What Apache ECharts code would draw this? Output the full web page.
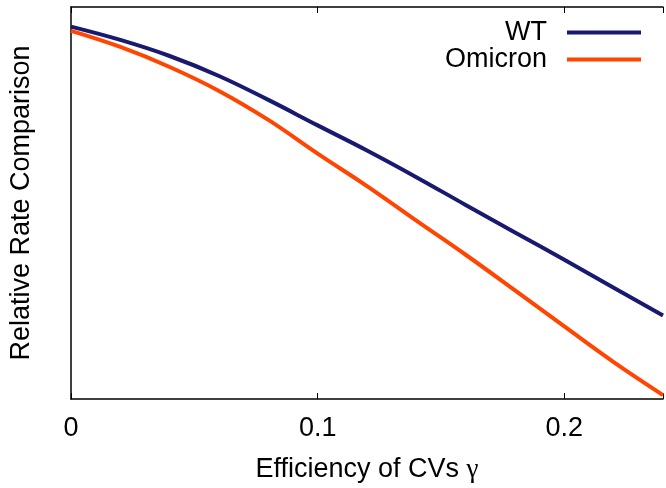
<!DOCTYPE html>
<html><head><meta charset="utf-8">
<script src="https://cdn.jsdelivr.net/npm/echarts@6/dist/echarts.min.js"></script>
<style>html,body{margin:0;padding:0;background:#fff}#c{width:666px;height:488px}</style>
</head><body><div id="c"></div>
<script>
const gamma = [0, 0.02, 0.04, 0.06, 0.08, 0.10, 0.12, 0.14, 0.16, 0.18, 0.20, 0.22, 0.24];
const wt = [0.950, 0.916, 0.875, 0.824, 0.763, 0.698, 0.634, 0.566, 0.495, 0.425, 0.355, 0.284, 0.213];
const omicron = [0.939, 0.898, 0.847, 0.786, 0.712, 0.626, 0.543, 0.455, 0.368, 0.277, 0.185, 0.094, 0.010];
const xTicks = [0, 0.1, 0.2];
const seriesNames = ['WT', 'Omicron'];
const colors = ['#191970', '#ff4500'];
const font = 'Liberation Sans';

const chart = echarts.init(document.getElementById('c'), null, {renderer: 'canvas'});
const pair = (xs, ys) => xs.map((x, i) => [x, ys[i]]);
chart.setOption({
  animation: false,
  backgroundColor: '#fff',
  grid: {left: 69, top: 7, width: 607, height: 392, containLabel: false},
  legend: {
    orient: 'vertical', right: 20, top: 14, align: 'right',
    itemWidth: 74, itemHeight: 4, itemGap: 0,
    icon: 'rect',
    data: seriesNames,
    textStyle: {fontFamily: font, fontSize: 27, color: '#000', padding: [0, 15, 0, 0]}
  },
  xAxis: [{
    type: 'value', min: 0, max: 0.24, interval: 0.1, position: 'bottom',
    name: 'Efficiency of CVs {g|γ}', nameLocation: 'middle', nameGap: 57,
    nameTextStyle: {fontFamily: font, fontSize: 27, color: '#000',
      rich: {g: {fontFamily: 'Liberation Serif', fontSize: 27, color: '#000'}}},
    axisLine: {show: true, lineStyle: {color: '#000', width: 1.5}},
    axisTick: {show: true, inside: true, length: 6, lineStyle: {color: '#000'}},
    axisLabel: {fontFamily: font, fontSize: 27, color: '#000', margin: 16,
      formatter: v => xTicks.includes(Math.round(v*100)/100) ? String(Math.round(v*100)/100) : ''},
    splitLine: {show: false}
  }, {
    type: 'value', min: 0, max: 0.24, interval: 0.1, position: 'top',
    axisLine: {show: true, lineStyle: {color: '#000', width: 1.5}},
    axisTick: {show: true, inside: true, length: 6, lineStyle: {color: '#000'}},
    axisLabel: {show: false}, splitLine: {show: false}
  }],
  yAxis: {
    type: 'value', min: 0, max: 1,
    name: 'Relative Rate Comparison', nameLocation: 'middle', nameGap: 36,
    nameTextStyle: {fontFamily: font, fontSize: 27, color: '#000'},
    axisLine: {show: true, lineStyle: {color: '#000', width: 1.5}},
    axisTick: {show: false}, axisLabel: {show: false}, splitLine: {show: false}
  },
  series: [
    {name: seriesNames[0], type: 'line', data: pair(gamma, wt), smooth: 0.4, showSymbol: false,
     color: colors[0], lineStyle: {width: 4, color: colors[0]}},
    {name: seriesNames[1], type: 'line', data: pair(gamma, omicron), smooth: 0.4, showSymbol: false,
     color: colors[1], lineStyle: {width: 4, color: colors[1]}}
  ]
});
</script></body></html>
